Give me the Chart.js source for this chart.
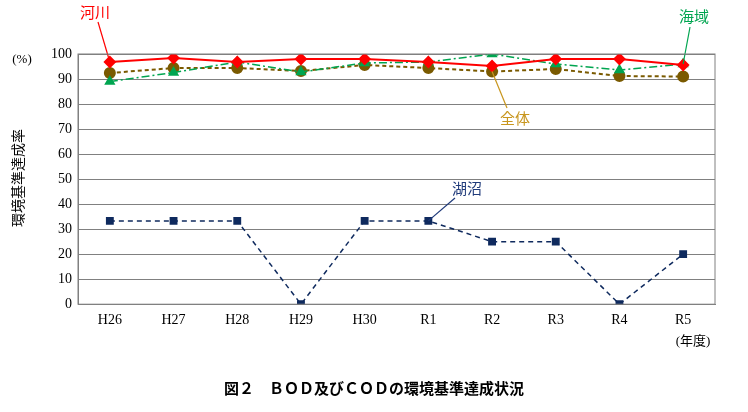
<!DOCTYPE html><html><head><meta charset="utf-8">
<script src="https://cdn.jsdelivr.net/npm/chart.js@4"></script>
<style>body{margin:0;background:#fff}#w{width:748px;height:412px;position:relative}</style></head><body>
<div id="w"><canvas id="c"></canvas></div>
<script>
const categories=['H26','H27','H28','H29','H30','R1','R2','R3','R4','R5'];
const river=[96.8,98.4,96.8,98,98,96.8,95.2,98,98,95.6];
const sea=[89,92.6,96.8,92.8,96.4,96.8,100,96,93.6,96];
const total=[92.4,94.4,94.4,93.2,95.6,94.4,93,94,91.2,91];
const lake=[33.3,33.3,33.3,0,33.3,33.3,25,25,0,20];
const yTicks=[0,10,20,30,40,50,60,70,80,90,100];
const JP='"Liberation Serif","Noto Sans CJK JP",serif';
const ann={id:'ann',afterDraw(ch){
 const c=ch.ctx,x=ch.scales.x,y=ch.scales.y;
 function lab(t,col,tx,ty,i,v){c.strokeStyle=col;c.lineWidth=1.2;c.beginPath();c.moveTo(tx.lx,tx.ly);c.lineTo(x.getPixelForValue(i),y.getPixelForValue(v));c.stroke();
  c.fillStyle=col;c.font='15px "Noto Sans CJK JP"';c.textAlign='center';c.textBaseline='middle';c.fillText(t,tx.x,ty);}
 lab('河川','#ff0000',{x:95,lx:98,ly:22},12,0,river[0]);
 lab('海域','#00a550',{x:694,lx:690,ly:27},16,9,sea[9]);
 lab('全体','#c8961e',{x:515,lx:507,ly:108},118,6,total[6]);
 lab('湖沼','#1f3a7a',{x:467,lx:455,ly:198},188,5,lake[5]);
 c.fillStyle='#000';c.font='13px '+JP;c.textAlign='center';
 c.fillText('(%)',22,60);c.fillText('(年度)',693,342);
 c.save();c.translate(18,178);c.rotate(-Math.PI/2);c.font='14px "Noto Sans CJK JP"';c.fillText('環境基準達成率',0,0);c.restore();
 c.font='bold 15px "Noto Sans CJK JP"';c.fillText('図２　ＢＯＤ及びＣＯＤの環境基準達成状況',374,388);
}};
new Chart(document.getElementById('c'),{type:'line',
data:{labels:categories,datasets:[
 {data:river,borderColor:'#ff0000',backgroundColor:'#ff0000',borderWidth:2,pointStyle:'rectRot',pointRadius:5},
 {data:sea,borderColor:'#00a550',backgroundColor:'#00a550',borderWidth:1.5,borderDash:[8,3,2,3],pointStyle:'triangle',pointRadius:5},
 {data:total,borderColor:'#7a5a00',backgroundColor:'#7a5a00',borderWidth:2,borderDash:[4,3],pointStyle:'circle',pointRadius:5},
 {data:lake,borderColor:'#0f2a5e',backgroundColor:'#0f2a5e',borderWidth:1.5,borderDash:[5,4],pointStyle:'rect',pointRadius:4.5}]},
options:{responsive:true,maintainAspectRatio:false,animation:false,
 layout:{padding:{left:38,right:33,top:54,bottom:75}},
 plugins:{legend:{display:false},tooltip:{enabled:false}},
 scales:{
  x:{offset:true,grid:{display:false,drawTicks:false},border:{color:'#808080'},ticks:{color:'#000',font:{family:JP,size:14},padding:8}},
  y:{min:0,max:100,afterBuildTicks(a){a.ticks=yTicks.map(v=>({value:v}));},afterFit(a){a.width=40;},
   grid:{color:'#808080',drawTicks:false},border:{color:'#808080'},ticks:{color:'#000',font:{family:JP,size:14},padding:6}}}},
plugins:[ann,{id:'box',afterDraw(ch){const a=ch.chartArea,c=ch.ctx;c.strokeStyle='#808080';c.lineWidth=1;c.strokeRect(a.left,a.top,a.right-a.left,a.bottom-a.top);}}]});
</script></body></html>
